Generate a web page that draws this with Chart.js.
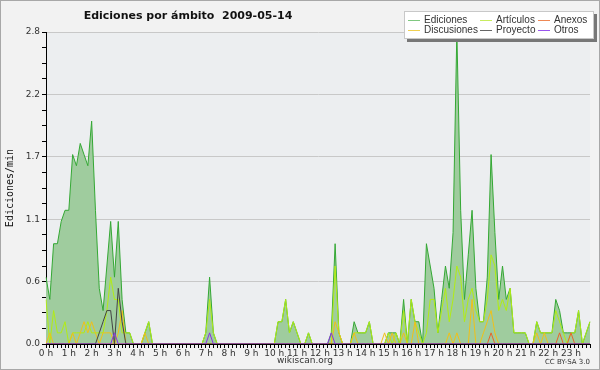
<!DOCTYPE html>
<html>
<head>
<meta charset="utf-8">
<script src="https://cdn.jsdelivr.net/npm/chart.js@4.4.1/dist/chart.umd.min.js"></script>
<style>
html, body { margin: 0; padding: 0; background: #f2f2f2; }
canvas { display: block; }
</style>
</head>
<body>
<canvas id="grafico" width="600" height="370"></canvas>
<script>
// una muestra cada 10 minutos, 144 por dia
var horas = [];
for (var h = 0; h < 24; h++) {
    for (var m = 0; m < 60; m += 10) {
        horas.push(h + ':' + (m < 10 ? '0' : '') + m);
    }
}

var etiquetasHora = ['0 h', '1 h', '2 h', '3 h', '4 h', '5 h', '6 h', '7 h', '8 h', '9 h', '10 h', '11 h',
    '12 h', '13 h', '14 h', '15 h', '16 h', '17 h', '18 h', '19 h', '20 h', '21 h', '22 h', '23 h'];

var ticksY = ['0.0', '0.6', '1.1', '1.7', '2.2', '2.8'];

// ediciones por minuto
var ediciones = [
    0.6, 0.4, 0.9, 0.9, 1.1, 1.2, 1.2, 1.7, 1.6, 1.8, 1.7, 1.6,
    2.0, 1.2, 0.5, 0.3, 0.7, 1.1, 0.6, 1.1, 0.4, 0.1, 0.1, 0,
    0, 0, 0.1, 0.2, 0, 0, 0, 0, 0, 0, 0, 0,
    0, 0, 0, 0, 0, 0, 0.1, 0.6, 0.1, 0, 0, 0,
    0, 0, 0, 0, 0, 0, 0, 0, 0, 0, 0, 0,
    0, 0.2, 0.2, 0.4, 0.1, 0.2, 0.1, 0, 0, 0.1, 0, 0,
    0, 0, 0, 0.1, 0.9, 0.1, 0, 0, 0, 0.2, 0.1, 0.1,
    0.1, 0.2, 0, 0, 0, 0, 0.1, 0.1, 0.1, 0, 0.4, 0,
    0.4, 0.2, 0.2, 0, 0.9, 0.7, 0.5, 0.1, 0.4, 0.7, 0.5, 1.0,
    2.8, 1.2, 0.4, 0.8, 1.2, 0.5, 0.2, 0.2, 0.6, 1.7, 1.0, 0.4,
    0.7, 0.4, 0.5, 0.1, 0.1, 0.1, 0.1, 0, 0, 0.2, 0.1, 0.1,
    0.1, 0.1, 0.4, 0.3, 0.1, 0.1, 0.1, 0.1, 0.3, 0, 0.1, 0.2
];

var articulos = [
    0.4, 0, 0.3, 0.1, 0.1, 0.2, 0, 0.1, 0.1, 0.1, 0.1, 0.2,
    0.1, 0.1, 0.1, 0.1, 0.3, 0.6, 0.4, 0.4, 0.1, 0.1, 0.1, 0,
    0, 0, 0.1, 0.2, 0, 0, 0, 0, 0, 0, 0, 0,
    0, 0, 0, 0, 0, 0, 0.1, 0.4, 0.1, 0, 0, 0,
    0, 0, 0, 0, 0, 0, 0, 0, 0, 0, 0, 0,
    0, 0.2, 0.2, 0.4, 0.1, 0.2, 0.1, 0, 0, 0.1, 0, 0,
    0, 0, 0, 0, 0.7, 0.1, 0, 0, 0, 0.1, 0.1, 0.1,
    0.1, 0.2, 0, 0, 0, 0, 0.1, 0, 0.1, 0, 0.3, 0,
    0.4, 0.2, 0.1, 0, 0.1, 0.4, 0.4, 0.1, 0.3, 0.5, 0.2, 0.4,
    0.7, 0.6, 0.2, 0.4, 0.5, 0.3, 0.2, 0.2, 0.4, 0.8, 0.7, 0.3,
    0.4, 0.3, 0.5, 0.1, 0.1, 0.1, 0.1, 0, 0, 0.2, 0.1, 0.1,
    0.1, 0.1, 0.3, 0.2, 0.1, 0, 0.1, 0.1, 0.3, 0, 0.1, 0.2
];

var anexos = [
    0, 0, 0, 0, 0, 0, 0, 0, 0, 0, 0, 0,
    0, 0, 0, 0, 0, 0, 0, 0, 0, 0, 0, 0,
    0, 0, 0, 0, 0, 0, 0, 0, 0, 0, 0, 0,
    0, 0, 0, 0, 0, 0, 0, 0, 0, 0, 0, 0,
    0, 0, 0, 0, 0, 0, 0, 0, 0, 0, 0, 0,
    0, 0, 0, 0, 0, 0, 0, 0, 0, 0, 0, 0,
    0, 0, 0, 0, 0, 0, 0, 0, 0, 0, 0, 0,
    0, 0, 0, 0, 0, 0, 0, 0, 0, 0, 0, 0,
    0, 0, 0, 0, 0, 0, 0, 0, 0, 0, 0, 0,
    0, 0, 0, 0, 0, 0, 0, 0, 0, 0.1, 0, 0,
    0, 0, 0, 0, 0, 0, 0, 0, 0, 0, 0, 0,
    0, 0, 0, 0.1, 0, 0, 0.1, 0, 0, 0, 0, 0
];

var discusiones = [
    0, 0.1, 0, 0, 0, 0, 0, 0.1, 0, 0.1, 0.2, 0.1,
    0.2, 0.1, 0, 0.1, 0.1, 0.1, 0, 0.1, 0.3, 0, 0, 0,
    0, 0, 0.1, 0, 0, 0, 0, 0, 0, 0, 0, 0,
    0, 0, 0, 0, 0, 0, 0, 0, 0, 0, 0, 0,
    0, 0, 0, 0, 0, 0, 0, 0, 0, 0, 0, 0,
    0, 0, 0, 0, 0, 0, 0, 0, 0, 0, 0, 0,
    0, 0, 0, 0, 0.2, 0.1, 0, 0, 0, 0.1, 0, 0,
    0, 0, 0, 0, 0, 0.1, 0, 0.1, 0, 0, 0.1, 0,
    0, 0.2, 0, 0, 0, 0, 0, 0, 0, 0, 0.1, 0,
    0.1, 0, 0, 0, 0.4, 0, 0, 0.1, 0.2, 0.3, 0.1, 0,
    0, 0, 0, 0, 0, 0, 0, 0, 0, 0.1, 0, 0.1,
    0, 0, 0, 0, 0, 0, 0, 0, 0, 0, 0, 0
];

var proyecto = [
    0, 0, 0, 0, 0, 0, 0, 0, 0, 0, 0, 0,
    0, 0, 0.1, 0.2, 0.3, 0.3, 0, 0.5, 0.2, 0, 0, 0,
    0, 0, 0, 0, 0, 0, 0, 0, 0, 0, 0, 0,
    0, 0, 0, 0, 0, 0, 0, 0, 0, 0, 0, 0,
    0, 0, 0, 0, 0, 0, 0, 0, 0, 0, 0, 0,
    0, 0, 0, 0, 0, 0, 0, 0, 0, 0, 0, 0,
    0, 0, 0, 0, 0, 0, 0, 0, 0, 0, 0, 0,
    0, 0, 0, 0, 0, 0, 0, 0, 0, 0, 0, 0,
    0, 0, 0, 0, 0, 0, 0, 0, 0, 0, 0, 0,
    0, 0, 0, 0, 0, 0, 0, 0, 0, 0, 0, 0,
    0, 0, 0, 0, 0, 0, 0, 0, 0, 0, 0, 0,
    0, 0, 0, 0, 0, 0, 0, 0, 0, 0, 0, 0
];

var otros = [
    0, 0, 0, 0, 0, 0, 0, 0, 0, 0, 0, 0,
    0, 0, 0, 0, 0, 0, 0.1, 0, 0, 0, 0, 0,
    0, 0, 0, 0, 0, 0, 0, 0, 0, 0, 0, 0,
    0, 0, 0, 0, 0, 0, 0, 0.1, 0, 0, 0, 0,
    0, 0, 0, 0, 0, 0, 0, 0, 0, 0, 0, 0,
    0, 0, 0, 0, 0, 0, 0, 0, 0, 0, 0, 0,
    0, 0, 0, 0.1, 0, 0, 0, 0, 0, 0, 0, 0,
    0, 0, 0, 0, 0, 0, 0, 0, 0, 0, 0, 0,
    0, 0, 0, 0, 0, 0, 0, 0, 0, 0, 0, 0,
    0, 0, 0, 0, 0, 0, 0, 0, 0, 0, 0, 0,
    0, 0, 0, 0, 0, 0, 0, 0, 0, 0, 0, 0,
    0, 0, 0, 0, 0, 0, 0, 0, 0, 0, 0, 0
];

var fuente = 'DejaVu Sans';

function serie(nombre, datos, color, orden, leyenda) {
    return {
        label: nombre,
        data: datos,
        borderColor: color,
        leyenda: leyenda || color,
        borderWidth: 1,
        pointRadius: 0,
        tension: 0,
        fill: false,
        order: orden
    };
}

var dsEdiciones = serie('Ediciones', ediciones, '#34a834', 6, '#80c880');
dsEdiciones.fill = 'origin';
dsEdiciones.backgroundColor = '#9fcc9e';

// fondo, titulo, leyenda y pie
var decorado = {
    id: 'decorado',
    beforeDraw: function(chart) {
        var c = chart.ctx, a = chart.chartArea;
        c.save();
        c.fillStyle = '#f2f2f2';
        c.fillRect(0, 0, chart.width, chart.height);
        c.fillStyle = '#eceef0';
        c.fillRect(a.left, a.top, a.right - a.left, a.bottom - a.top);
        c.restore();
    },
    afterDraw: function(chart) {
        var c = chart.ctx;
        c.save();
        c.strokeStyle = '#a8a8a8';
        c.lineWidth = 1;
        c.strokeRect(0.5, 0.5, chart.width - 1, chart.height - 1);

        c.fillStyle = '#111';
        c.font = 'bold 11px "' + fuente + '"';
        c.textAlign = 'center';
        c.textBaseline = 'middle';
        c.fillText('Ediciones por ámbito  2009-05-14', 188, 16);

        // leyenda
        c.fillStyle = '#777';
        c.fillRect(407, 14, 190, 28);
        c.fillStyle = '#ffffff';
        c.fillRect(404, 11, 190, 28);
        c.strokeStyle = '#c8c8c8';
        c.strokeRect(404.5, 11.5, 189, 27);
        var colX = [408, 480, 538];
        var filaY = [20, 30];
        c.font = '10px "Liberation Sans"';
        c.textAlign = 'left';
        chart.data.datasets.forEach(function(ds, k) {
            var x = colX[k % 3], y = filaY[Math.floor(k / 3)];
            c.strokeStyle = ds.leyenda;
            c.beginPath();
            c.moveTo(x, y + 0.5);
            c.lineTo(x + 12, y + 0.5);
            c.stroke();
            c.fillStyle = '#333';
            c.fillText(ds.label, x + 16, y);
        });

        c.fillStyle = '#333';
        c.font = '9px "' + fuente + '"';
        c.textAlign = 'center';
        c.fillText('wikiscan.org', 305, 361);
        c.font = '7px "' + fuente + '"';
        c.textAlign = 'right';
        c.fillText('CC BY-SA 3.0', 590, 362);
        c.restore();
    }
};

var ctx = document.getElementById('grafico').getContext('2d');

var grafico = new Chart(ctx, {
    type: 'line',
    data: {
        labels: horas,
        datasets: [
            dsEdiciones,
            serie('Artículos', articulos, '#b2ec14', 5, '#c8ec60'),
            serie('Anexos', anexos, '#e8642a', 3, '#ee8855'),
            serie('Discusiones', discusiones, '#f0c018', 4, '#f0d050'),
            serie('Proyecto', proyecto, '#444444', 2, '#666666'),
            serie('Otros', otros, '#8a30e8', 1, '#9955ee')
        ]
    },
    options: {
        responsive: false,
        devicePixelRatio: 1,
        animation: false,
        layout: { padding: { left: 0, right: 10, top: 32, bottom: 0 } },
        plugins: {
            legend: { display: false },
            tooltip: { enabled: false }
        },
        scales: {
            x: {
                z: 1,
                afterFit: function(s) { s.height = 26; },
                grid: { drawOnChartArea: false, tickLength: 4, tickColor: '#000' },
                border: { display: true, color: '#000' },
                ticks: {
                    autoSkip: false,
                    maxRotation: 0,
                    padding: 0,
                    color: '#333',
                    font: { family: fuente, size: 9 },
                    callback: function(v, i) { return i % 6 === 0 ? etiquetasHora[i / 6] : ''; }
                }
            },
            y: {
                min: 0,
                max: 2.8,
                afterFit: function(s) { s.width = 46; },
                grid: {
                    tickLength: 4,
                    tickColor: '#000',
                    color: function(c) { return c.index % 4 === 0 ? '#c8c8c8' : 'rgba(0,0,0,0)'; }
                },
                border: { display: true, color: '#000' },
                title: {
                    display: true,
                    text: 'Ediciones/min',
                    color: '#111',
                    font: { family: 'DejaVu Sans Mono', size: 10, lineHeight: 2 },
                    padding: 0
                },
                ticks: {
                    stepSize: 0.14,
                    autoSkip: false,
                    padding: 2,
                    color: '#333',
                    font: { family: fuente, size: 9 },
                    callback: function(v, i) { return i % 4 === 0 ? ticksY[i / 4] : ''; }
                }
            }
        }
    },
    plugins: [decorado]
});
</script>
</body>
</html>
